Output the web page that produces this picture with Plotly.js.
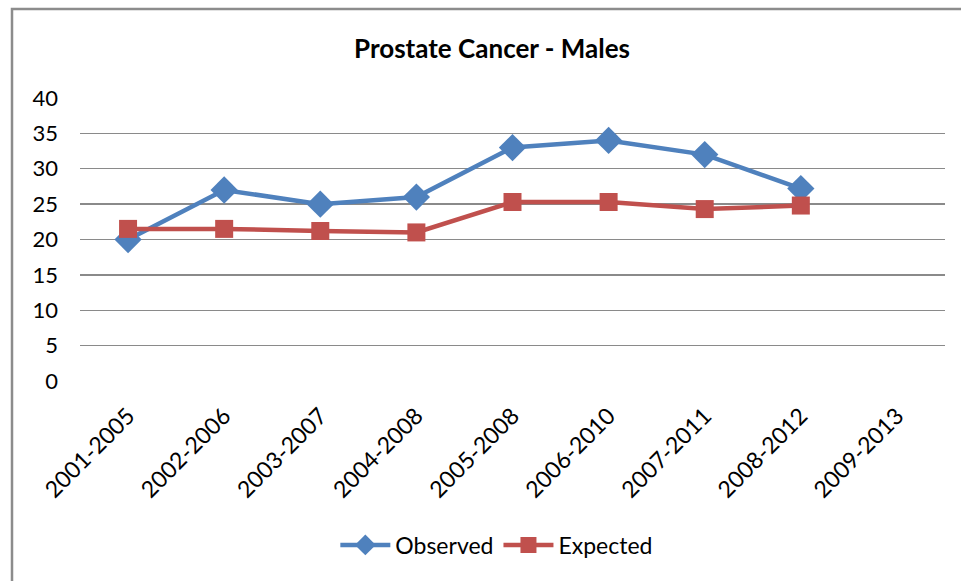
<!DOCTYPE html>
<html>
<head>
<meta charset="utf-8">
<script src="https://cdn.plot.ly/plotly-3.0.1.min.js"></script>
<style>
  html, body { margin: 0; padding: 0; background: #fff; }
  #chart { width: 961px; height: 581px; }
</style>
</head>
<body>
<div id="chart"></div>
<script>
const categories = ["2001-2005", "2002-2006", "2003-2007", "2004-2008", "2005-2008", "2006-2010", "2007-2011", "2008-2012", "2009-2013"];
const observed = [20, 27, 25, 26, 33, 34, 32, 27.2, null];
const expected = [21.5, 21.5, 21.2, 21, 25.3, 25.3, 24.3, 24.8, null];
const yTicks = [0, 5, 10, 15, 20, 25, 30, 35, 40];

const fontFam = "Lato, 'Open Sans', sans-serif";

const traces = [
  {
    x: categories, y: observed, name: "Observed", type: "scatter", mode: "lines+markers",
    line: { color: "#4F81BD", width: 4.5 },
    marker: { symbol: "diamond", size: 21, color: "#4F81BD" },
    cliponaxis: false
  },
  {
    x: categories, y: expected, name: "Expected", type: "scatter", mode: "lines+markers",
    line: { color: "#C0504D", width: 4.5 },
    marker: { symbol: "square", size: 18, color: "#C0504D" },
    cliponaxis: false
  }
];

const layout = {
  width: 961, height: 581,
  margin: { l: 80, r: 16, t: 98, b: 200 },
  paper_bgcolor: "#fff", plot_bgcolor: "#fff",
  font: { family: fontFam, color: "#000", size: 22 },
  showlegend: true,
  title: {
    text: "<b>Prostate Cancer - Males</b>",
    font: { family: fontFam, size: 26, color: "#000" },
    x: 0.512, xref: "container", xanchor: "center",
    y: 1 - 49 / 581, yref: "container", yanchor: "middle"
  },
  xaxis: {
    type: "category",
    tickangle: -45,
    tickfont: { family: fontFam, size: 23, color: "#000" },
    showgrid: false, zeroline: false, showline: false,
    ticks: "", ticklabelstandoff: 16,
    range: [-0.5, 8.5], fixedrange: true
  },
  yaxis: {
    range: [0, 40], tickvals: yTicks, ticktext: yTicks.map(String),
    tickfont: { family: fontFam, size: 22, color: "#000" },
    showgrid: true, gridcolor: "#8a8a8a", gridwidth: 1.3,
    zeroline: false, showline: false, ticks: "",
    ticklabelstandoff: 21, fixedrange: true
  },
  legend: {
    orientation: "h", x: 0.517, xref: "container", xanchor: "center",
    y: 1 - 545 / 581, yref: "container", yanchor: "middle",
    font: { family: fontFam, size: 23, color: "#000" },
    itemwidth: 50, traceorder: "normal"
  },
  shapes: [
    {
      type: "rect", xref: "paper", yref: "paper",
      x0: (12 - 80) / 865, x1: (990 - 80) / 865,
      y0: (381 - 600) / 283, y1: (381 - 9) / 283,
      line: { color: "#8c8c8c", width: 2.5 }, fillcolor: "rgba(0,0,0,0)",
      layer: "below"
    }
  ]
};

Plotly.newPlot("chart", traces, layout, { displayModeBar: false, staticPlot: true });
</script>
</body>
</html>
